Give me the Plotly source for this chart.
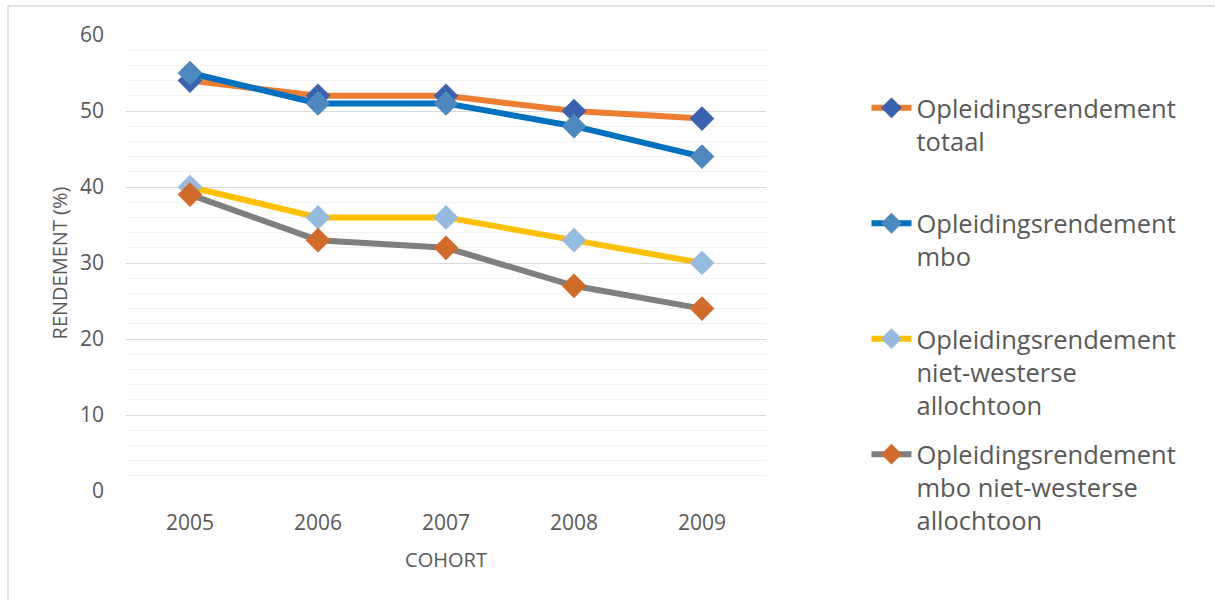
import plotly.graph_objects as go

# Cohort years on the category axis
cohorts = ["2005", "2006", "2007", "2008", "2009"]

# Opleidingsrendement (%) per cohort
rendement_totaal = [54, 52, 52, 50, 49]
rendement_mbo = [55, 51, 51, 48, 44]
rendement_nw = [40, 36, 36, 33, 30]
rendement_mbo_nw = [39, 33, 32, 27, 24]

series_names = [
    "Opleidingsrendement<br>totaal<br>&nbsp;",
    "Opleidingsrendement<br>mbo<br>&nbsp;",
    "Opleidingsrendement<br>niet-westerse<br>allochtoon",
    "Opleidingsrendement<br>mbo niet-westerse<br>allochtoon",
]
series_values = [rendement_totaal, rendement_mbo, rendement_nw, rendement_mbo_nw]
line_colors = ["#ED7D31", "#0070C0", "#FFC000", "#7F7F7F"]
marker_colors = ["#3A62AE", "#4D88BE", "#97BAE1", "#D26B2A"]

TEXT = "#595959"
FONT = "Open Sans"

fig = go.Figure()
for i, (name, vals, lc, mc) in enumerate(zip(series_names, series_values, line_colors, marker_colors)):
    fig.add_trace(go.Scatter(
        x=cohorts, y=vals, name=name, mode="lines+markers",
        legendgroup=f"g{i}",
        line=dict(color=lc, width=6),
        marker=dict(symbol="diamond", size=19, color=mc, line=dict(width=0)),
    ))

fig.update_layout(
    width=1215, height=600,
    margin=dict(l=126, r=449, t=35, b=109),
    paper_bgcolor="white", plot_bgcolor="white",
    font=dict(family=FONT, color=TEXT),
    xaxis=dict(
        type="category", range=[-0.5, 4.5],
        showgrid=False, zeroline=False, showline=False, ticks="",
        tickfont=dict(size=21, color=TEXT),
        ticklabelstandoff=17,
        title=dict(text="COHORT", font=dict(size=20, color=TEXT), standoff=17),
    ),
    yaxis=dict(
        range=[0, 60], dtick=10, tick0=0,
        showgrid=True, gridcolor="#D9D9D9", gridwidth=1,
        zeroline=False, showline=False, ticks="",
        minor=dict(dtick=2, tick0=0, showgrid=True, gridcolor="#F2F2F2", gridwidth=1),
        tickfont=dict(size=21, color=TEXT),
        ticklabelstandoff=21,
        title=dict(text="RENDEMENT (%)", font=dict(size=20, color=TEXT), standoff=6),
    ),
    legend=dict(
        x=1.157, y=0.891, xanchor="left", yanchor="top",
        font=dict(size=25.5, color=TEXT, family=FONT),
        valign="top", tracegroupgap=13, itemwidth=40,
        maxheight=580,
        bgcolor="rgba(0,0,0,0)",
    ),
    showlegend=True,
)

# Chart area border
fig.add_shape(
    type="rect", xref="paper", yref="paper",
    x0=(8 - 126) / 640, x1=(1240 - 126) / 640,
    y0=(491 - 640) / 456, y1=(491 - 6) / 456,
    line=dict(color="#D9D9D9", width=1.5), fillcolor="rgba(0,0,0,0)", layer="below",
)

fig.write_html("out.html")
